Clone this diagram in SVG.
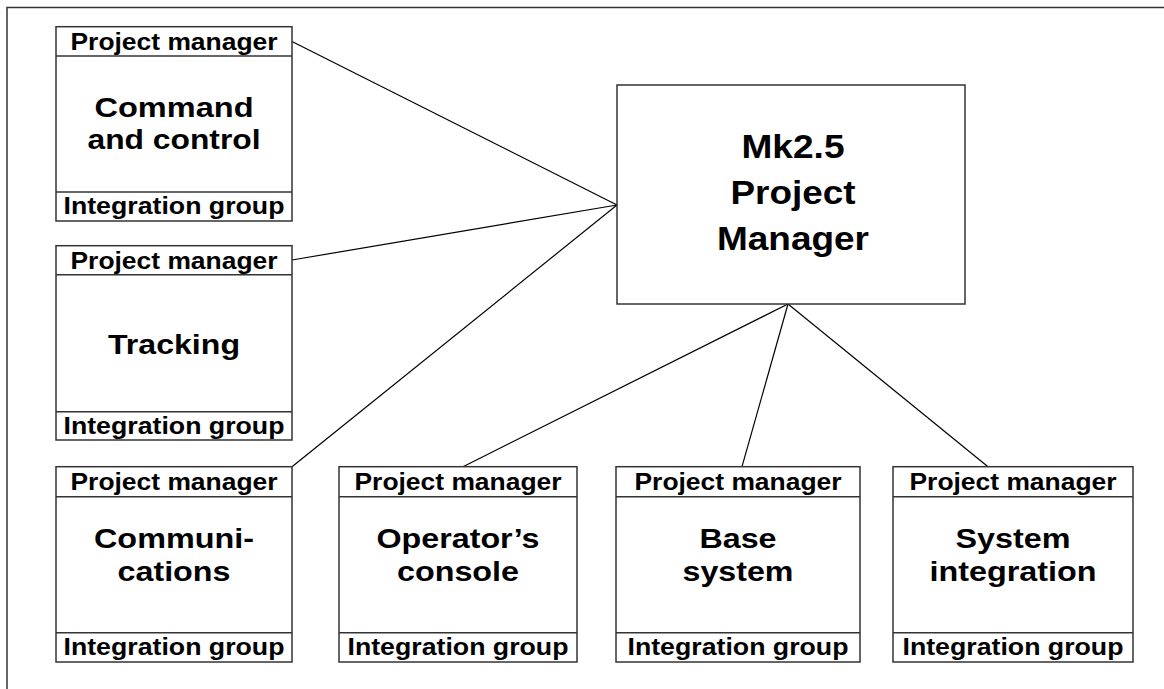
<svg xmlns="http://www.w3.org/2000/svg" width="1164" height="689" viewBox="0 0 1164 689">
<style>
.box{fill:#fff;stroke:#333;stroke-width:1.5}
.div{stroke:#333;stroke-width:1.5;fill:none}
.lbl{font-family:"Liberation Sans",Arial,sans-serif;font-weight:bold;font-size:24px;text-anchor:middle;fill:#000}
.big{font-family:"Liberation Sans",Arial,sans-serif;font-weight:bold;font-size:27px;text-anchor:middle;fill:#000}
.huge{font-family:"Liberation Sans",Arial,sans-serif;font-weight:bold;font-size:34px;text-anchor:middle;fill:#000}
.con{stroke:#000;stroke-width:1.2;fill:none}
</style>
<rect width="1164" height="689" fill="#fff"/>
<path d="M7,689 V7.5 H1164" fill="none" stroke="#333" stroke-width="1.5"/>
<g id="connectors">
<line class="con" x1="292" y1="41.5" x2="617" y2="205"/>
<line class="con" x1="292" y1="260" x2="617" y2="205"/>
<line class="con" x1="292" y1="466.7" x2="617" y2="205"/>
<line class="con" x1="463" y1="466.7" x2="788" y2="304"/>
<line class="con" x1="742" y1="466.7" x2="788" y2="304"/>
<line class="con" x1="988" y1="466.7" x2="788" y2="304"/>
</g>
<g id="mk25">
<rect class="box" x="617" y="85" width="348" height="219"/>
<text class="huge" x="793" y="158" textLength="103" lengthAdjust="spacingAndGlyphs">Mk2.5</text>
<text class="huge" x="793" y="204" textLength="125" lengthAdjust="spacingAndGlyphs">Project</text>
<text class="huge" x="793" y="250" textLength="152" lengthAdjust="spacingAndGlyphs">Manager</text>
</g>
<g id="command">
<rect class="box" x="56" y="26.7" width="236" height="194.3"/>
<line class="div" x1="56" y1="56" x2="292" y2="56"/>
<line class="div" x1="56" y1="192" x2="292" y2="192"/>
<text class="lbl" x="174" y="49.5" textLength="207" lengthAdjust="spacingAndGlyphs">Project manager</text>
<text class="big" x="174" y="116.7" textLength="159" lengthAdjust="spacingAndGlyphs">Command</text>
<text class="big" x="174" y="149" textLength="173" lengthAdjust="spacingAndGlyphs">and control</text>
<text class="lbl" x="174" y="214" textLength="221" lengthAdjust="spacingAndGlyphs">Integration group</text>
</g>
<g id="tracking">
<rect class="box" x="56" y="245.7" width="236" height="194.3"/>
<line class="div" x1="56" y1="274.7" x2="292" y2="274.7"/>
<line class="div" x1="56" y1="411.7" x2="292" y2="411.7"/>
<text class="lbl" x="174" y="268.5" textLength="207" lengthAdjust="spacingAndGlyphs">Project manager</text>
<text class="big" x="174" y="353.5" textLength="132" lengthAdjust="spacingAndGlyphs">Tracking</text>
<text class="lbl" x="174" y="433.5" textLength="221" lengthAdjust="spacingAndGlyphs">Integration group</text>
</g>
<g id="communications">
<rect class="box" x="56" y="466.7" width="236" height="195.3"/>
<line class="div" x1="56" y1="496.7" x2="292" y2="496.7"/>
<line class="div" x1="56" y1="632.7" x2="292" y2="632.7"/>
<text class="lbl" x="174" y="489.5" textLength="207" lengthAdjust="spacingAndGlyphs">Project manager</text>
<text class="big" x="174" y="548.4" textLength="160" lengthAdjust="spacingAndGlyphs">Communi-</text>
<text class="big" x="174" y="580.7" textLength="113" lengthAdjust="spacingAndGlyphs">cations</text>
<text class="lbl" x="174" y="655" textLength="221" lengthAdjust="spacingAndGlyphs">Integration group</text>
</g>
<g id="console">
<rect class="box" x="339" y="466.7" width="238" height="195.3"/>
<line class="div" x1="339" y1="496.7" x2="577" y2="496.7"/>
<line class="div" x1="339" y1="632.7" x2="577" y2="632.7"/>
<text class="lbl" x="458" y="489.5" textLength="207" lengthAdjust="spacingAndGlyphs">Project manager</text>
<text class="big" x="458" y="548.4" textLength="163" lengthAdjust="spacingAndGlyphs">Operator’s</text>
<text class="big" x="458" y="580.7" textLength="122" lengthAdjust="spacingAndGlyphs">console</text>
<text class="lbl" x="458" y="655" textLength="221" lengthAdjust="spacingAndGlyphs">Integration group</text>
</g>
<g id="base">
<rect class="box" x="616" y="466.7" width="244" height="195.3"/>
<line class="div" x1="616" y1="496.7" x2="860" y2="496.7"/>
<line class="div" x1="616" y1="632.7" x2="860" y2="632.7"/>
<text class="lbl" x="738" y="489.5" textLength="207" lengthAdjust="spacingAndGlyphs">Project manager</text>
<text class="big" x="738" y="548.4" textLength="77" lengthAdjust="spacingAndGlyphs">Base</text>
<text class="big" x="738" y="580.7" textLength="111" lengthAdjust="spacingAndGlyphs">system</text>
<text class="lbl" x="738" y="655" textLength="221" lengthAdjust="spacingAndGlyphs">Integration group</text>
</g>
<g id="sysint">
<rect class="box" x="893" y="466.7" width="240" height="195.3"/>
<line class="div" x1="893" y1="496.7" x2="1133" y2="496.7"/>
<line class="div" x1="893" y1="632.7" x2="1133" y2="632.7"/>
<text class="lbl" x="1013" y="489.5" textLength="207" lengthAdjust="spacingAndGlyphs">Project manager</text>
<text class="big" x="1013" y="548.4" textLength="115" lengthAdjust="spacingAndGlyphs">System</text>
<text class="big" x="1013" y="580.7" textLength="167" lengthAdjust="spacingAndGlyphs">integration</text>
<text class="lbl" x="1013" y="655" textLength="221" lengthAdjust="spacingAndGlyphs">Integration group</text>
</g>
</svg>
